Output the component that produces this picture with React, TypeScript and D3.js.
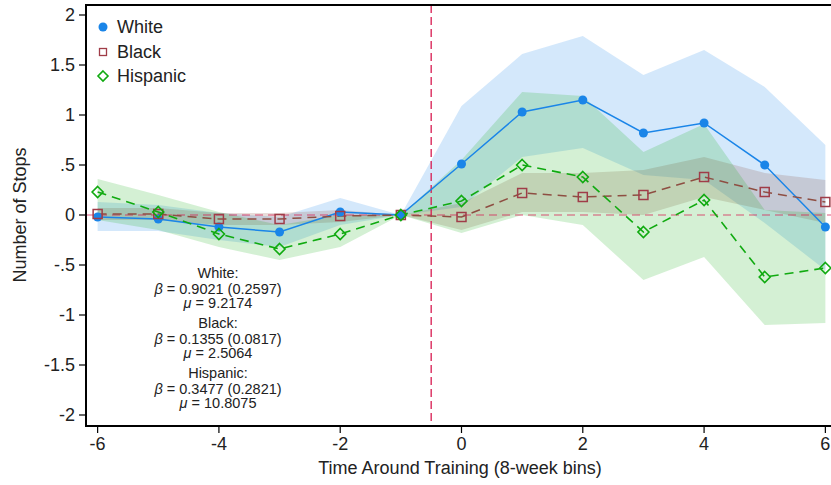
import React from "react";
import * as d3 from "d3";

const periods = [-6, -5, -4, -3, -2, -1, 0, 1, 2, 3, 4, 5, 6];
const xTicks = [-6, -4, -2, 0, 2, 4, 6];
const yTicks = [2, 1.5, 1, 0.5, 0, -0.5, -1, -1.5, -2];
const yTickLabels = ["2", "1.5", "1", ".5", "0", "-.5", "-1", "-1.5", "-2"];

const whiteEst = [-0.02, -0.04, -0.12, -0.17, 0.03, 0, 0.51, 1.03, 1.15, 0.82, 0.92, 0.5, -0.12];
const whiteLo = [-0.16, -0.16, -0.25, -0.32, -0.1, 0, 0.08, 0.58, 0.67, 0.4, 0.35, -0.08, -0.55];
const whiteHi = [0.13, 0.1, 0.02, -0.02, 0.17, 0, 1.09, 1.61, 1.79, 1.4, 1.65, 1.28, 0.7];

const blackEst = [0.01, 0.01, -0.04, -0.04, -0.01, 0, -0.02, 0.22, 0.18, 0.2, 0.38, 0.23, 0.13];
const blackLo = [-0.05, -0.05, -0.1, -0.1, -0.07, 0, -0.15, 0.03, 0.03, 0.0, 0.18, 0.05, -0.08];
const blackHi = [0.07, 0.07, 0.02, 0.02, 0.05, 0, 0.12, 0.42, 0.42, 0.45, 0.58, 0.42, 0.35];

const hispEst = [0.23, 0.03, -0.19, -0.34, -0.19, 0, 0.14, 0.5, 0.38, -0.17, 0.15, -0.62, -0.53];
const hispLo = [-0.05, -0.15, -0.32, -0.45, -0.32, 0, -0.18, 0.0, -0.1, -0.65, -0.42, -1.1, -1.08];
const hispHi = [0.36, 0.2, 0.03, -0.1, 0.0, 0, 0.55, 1.23, 1.19, 0.63, 0.91, 0.05, 0.02];

const annotations = [
  { title: "White:", beta: "0.9021 (0.2597)", mu: "9.2174" },
  { title: "Black:", beta: "0.1355 (0.0817)", mu: "2.5064" },
  { title: "Hispanic:", beta: "0.3477 (0.2821)", mu: "10.8075" },
];

const BLUE = "#1a85e8";
const BROWN = "#8e4e42";
const BROWN_MARK = "#a03c48";
const GREEN = "#10aa10";
const CRIMSON = "#d81b50";
const FONT = "'Liberation Sans', Arial, Helvetica, sans-serif";

export default function App() {
  const W = 831, H = 485;
  const x = d3.scaleLinear().domain([-6.2, 6.2]).range([85.5, 837.5]);
  const y = d3.scaleLinear().domain([-2.1, 2.1]).range([425, 5]);

  const area = (lo: number[], hi: number[]) =>
    d3.area<number>().x((_, i) => x(periods[i])).y0((_, i) => y(lo[i])).y1((_, i) => y(hi[i]))(periods) || "";
  const line = (v: number[]) =>
    d3.line<number>().x((_, i) => x(periods[i])).y((_, i) => y(v[i]))(periods) || "";

  const sq = 4.5;
  const diamond = (cx: number, cy: number, dm: number) =>
    `M${cx},${cy - dm}L${cx + dm},${cy}L${cx},${cy + dm}L${cx - dm},${cy}Z`;

  return (
    <svg width={W} height={H} style={{ position: "absolute", left: 0, top: 0, background: "#fff" }}>
      <rect x={0} y={0} width={W} height={H} fill="#fff" />
      {/* bands */}
      <path d={area(whiteLo, whiteHi)} fill={BLUE} fillOpacity={0.19} />
      <path d={area(blackLo, blackHi)} fill={BROWN} fillOpacity={0.2} />
      <path d={area(hispLo, hispHi)} fill={GREEN} fillOpacity={0.18} />

      {/* reference lines */}
      <line x1={86} x2={W} y1={y(0)} y2={y(0)} stroke={CRIMSON} strokeWidth={1.2} strokeDasharray="8,5" strokeOpacity={0.75} />
      <line x1={x(-0.5)} x2={x(-0.5)} y1={5} y2={425} stroke={CRIMSON} strokeWidth={1.3} strokeDasharray="8,4" />

      {/* series */}
      <path d={line(whiteEst)} fill="none" stroke={BLUE} strokeWidth={1.5} />
      <path d={line(blackEst)} fill="none" stroke={BROWN} strokeWidth={1.5} strokeDasharray="9,6" />
      <path d={line(hispEst)} fill="none" stroke={GREEN} strokeWidth={1.6} strokeDasharray="9,6" />

      {whiteEst.map((v, i) => (
        <circle key={"w" + i} cx={x(periods[i])} cy={y(v)} r={4.5} fill={BLUE} />
      ))}
      {blackEst.map((v, i) => (
        <rect key={"b" + i} x={x(periods[i]) - sq} y={y(v) - sq} width={sq * 2} height={sq * 2} fill="none" stroke={BROWN_MARK} strokeWidth={1.5} />
      ))}
      {hispEst.map((v, i) => (
        <path key={"h" + i} d={diamond(x(periods[i]), y(v), 5.5)} fill="none" stroke={GREEN} strokeWidth={1.6} />
      ))}

      {/* axes frame */}
      <line x1={86} x2={W} y1={5} y2={5} stroke="#000" strokeWidth={2} />
      <line x1={86} x2={86} y1={4} y2={427} stroke="#000" strokeWidth={2} />
      <line x1={85} x2={W} y1={426} y2={426} stroke="#000" strokeWidth={2} />

      {/* y ticks */}
      {yTicks.map((t, i) => (
        <g key={"yt" + i}>
          <line x1={79} x2={86} y1={y(t)} y2={y(t)} stroke="#000" strokeWidth={1.2} />
          <text x={75} y={y(t)} dy="0.35em" textAnchor="end" fontFamily={FONT} fontSize={18} fill="#222">
            {yTickLabels[i]}
          </text>
        </g>
      ))}
      {/* x ticks */}
      {xTicks.map((t) => (
        <g key={"xt" + t}>
          <line x1={x(t)} x2={x(t)} y1={426} y2={433} stroke="#000" strokeWidth={1.2} />
          <text x={x(t)} y={450} textAnchor="middle" fontFamily={FONT} fontSize={18} fill="#222">
            {String(t)}
          </text>
        </g>
      ))}

      <text x={460} y={474} textAnchor="middle" fontFamily={FONT} fontSize={18} fill="#222">
        Time Around Training (8-week bins)
      </text>
      <text transform={`translate(26,215) rotate(-90)`} textAnchor="middle" fontFamily={FONT} fontSize={18} fill="#222">
        Number of Stops
      </text>

      {/* legend */}
      <circle cx={103} cy={27} r={4.5} fill={BLUE} />
      <text x={117} y={27} dy="0.35em" fontFamily={FONT} fontSize={18} fill="#222">White</text>
      <rect x={99.5} y={48.5} width={7} height={7} fill="none" stroke={BROWN_MARK} strokeWidth={1.3} />
      <text x={117} y={52} dy="0.35em" fontFamily={FONT} fontSize={18} fill="#222">Black</text>
      <path d={diamond(103, 76, 5)} fill="none" stroke={GREEN} strokeWidth={1.6} />
      <text x={117} y={76} dy="0.35em" fontFamily={FONT} fontSize={18} fill="#222">Hispanic</text>

      {/* annotations */}
      {annotations.map((a, i) => {
        const y0 = 278 + i * 50;
        return (
          <g key={"a" + i} fontFamily={FONT} fontSize={14.5} fill="#222" textAnchor="middle">
            <text x={218} y={y0}>{a.title}</text>
            <text x={218} y={y0 + 15.5}>
              <tspan fontStyle="italic">β</tspan> = {a.beta}
            </text>
            <text x={218} y={y0 + 30}>
              <tspan fontStyle="italic">μ</tspan> = {a.mu}
            </text>
          </g>
        );
      })}
    </svg>
  );
}
